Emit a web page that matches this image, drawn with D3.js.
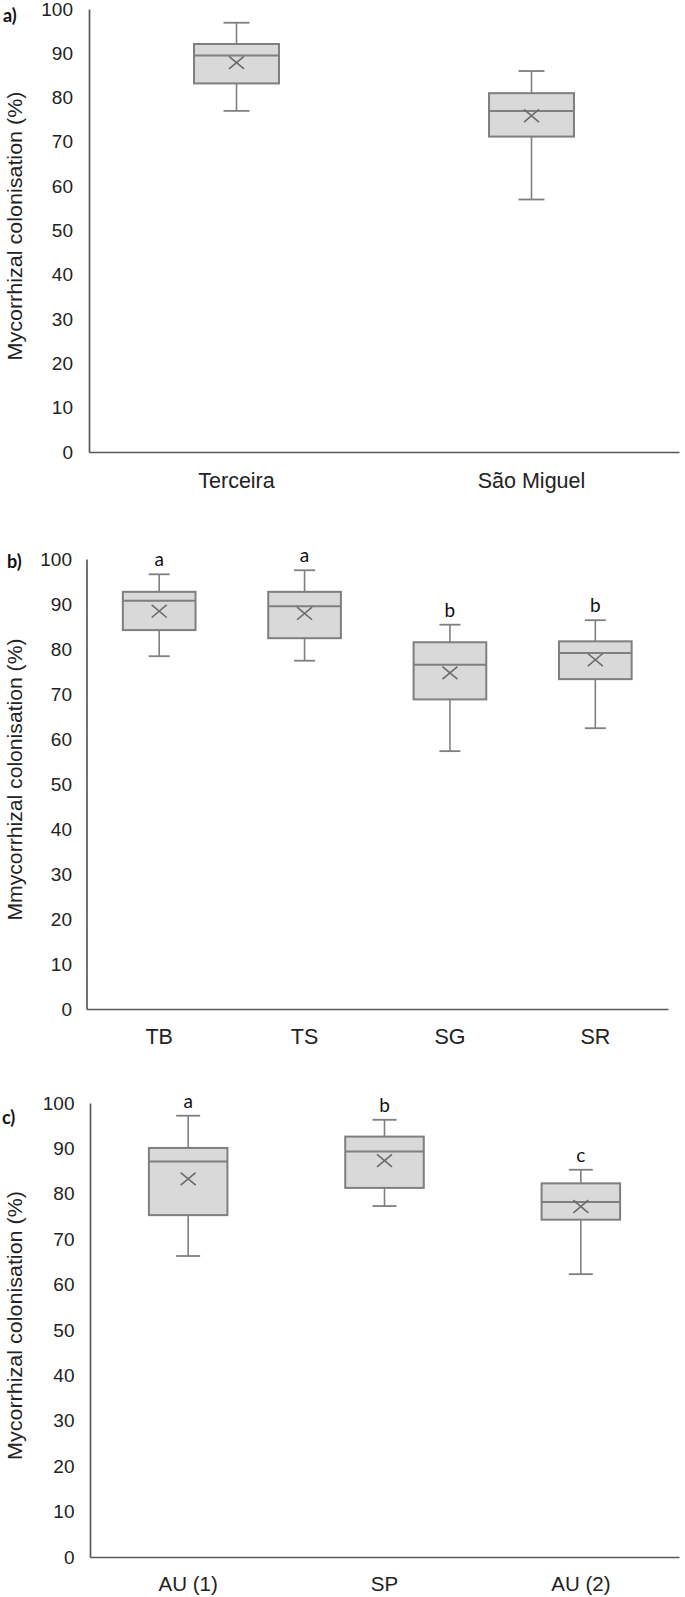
<!DOCTYPE html>
<html>
<head>
<meta charset="utf-8">
<script src="https://cdn.jsdelivr.net/npm/d3@7"></script>
<style>
  html, body { margin: 0; padding: 0; background: #fff; }
  svg { display: block; }
</style>
</head>
<body>
<svg id="chart" width="685" height="1597"></svg>
<script>
// ---------- DATA ----------
const yTicks = [0, 10, 20, 30, 40, 50, 60, 70, 80, 90, 100];

// Panel a
const catsA   = ["Terceira", "São Miguel"];
const minA    = [77, 57];
const q1A     = [83.2, 71.2];
const medA    = [89.5, 77];
const q3A     = [92.1, 81];
const maxA    = [96.9, 86];
const meanA   = [87.9, 75.9];

// Panel b
const catsB    = ["TB", "TS", "SG", "SR"];
const minB     = [78.4, 77.4, 57.3, 62.4];
const q1B      = [84.2, 82.4, 68.8, 73.3];
const medB     = [90.7, 89.5, 76.5, 79.1];
const q3B      = [92.7, 92.7, 81.5, 81.7];
const maxB     = [96.6, 97.5, 85.4, 86.4];
const meanB    = [88.4, 87.9, 74.7, 77.6];
const lettersB = ["a", "a", "b", "b"];

// Panel c
const catsC    = ["AU (1)", "SP", "AU (2)"];
const minC     = [66.3, 77.3, 62.3];
const q1C      = [75.3, 81.3, 74.3];
const medC     = [87.1, 89.3, 78.2];
const q3C      = [90.1, 92.6, 82.3];
const maxC     = [97.2, 96.3, 85.3];
const meanC    = [83.3, 87.3, 77.2];
const lettersC = ["a", "b", "c"];

// ---------- DRAW ----------
const svg = d3.select("#chart");
svg.append("rect").attr("width", 685).attr("height", 1597).attr("fill", "#fff");

const panels = [
  { tag: "a)", tagX: 3, tagY: 15, title: "Mycorrhizal colonisation (%)",
    x0: 89, x1: 679, y0: 452, y100: 9, boxFrac: 0.288, cap: 26, xPad: 20.4, tickPad: 16, catSize: 21.5,
    cats: catsA, mn: minA, q1: q1A, md: medA, q3: q3A, mx: maxA, mean: meanA, letters: null },
  { tag: "b)", tagX: 7, tagY: 561, title: "Mmycorrhizal colonisation (%)",
    x0: 86.5, x1: 668, y0: 1009, y100: 559, boxFrac: 0.5, cap: 21, xPad: 20.1, tickPad: 14.5, catSize: 21.5,
    cats: catsB, mn: minB, q1: q1B, md: medB, q3: q3B, mx: maxB, mean: meanB, letters: lettersB },
  { tag: "c)", tagX: 2, tagY: 1117, title: "Mycorrhizal colonisation (%)",
    x0: 90, x1: 679, y0: 1557, y100: 1103, boxFrac: 0.40, cap: 24, xPad: 19, tickPad: 15.5, catSize: 20.5,
    cats: catsC, mn: minC, q1: q1C, md: medC, q3: q3C, mx: maxC, mean: meanC, letters: lettersC }
];

const boxStroke = "#7f7f7f";
const boxFill = "#d9d9d9";
const axisColor = "#595959";
const textFont = "'Liberation Sans', Arial, sans-serif";
const letterFont = "Lato, 'Open Sans', sans-serif";

panels.forEach(p => {
  const g = svg.append("g");
  const y = d3.scaleLinear().domain([0, 100]).range([p.y0, p.y100]);
  const x = d3.scaleBand().domain(p.cats).range([p.x0, p.x1]);
  const bw = x.bandwidth() * p.boxFrac;
  const cx = c => x(c) + x.bandwidth() / 2;

  // y axis
  const ya = g.append("g").attr("transform", `translate(${p.x0},0)`)
    .call(d3.axisLeft(y).tickValues(yTicks).tickSize(0).tickSizeOuter(0).tickPadding(p.tickPad));
  ya.select(".domain").attr("stroke", axisColor).attr("stroke-width", 1.7);
  ya.selectAll("text").attr("font-family", textFont).attr("font-size", 19).attr("fill", "#222");

  // x axis
  const xa = g.append("g").attr("transform", `translate(0,${p.y0})`)
    .call(d3.axisBottom(x).tickSize(0).tickSizeOuter(0).tickPadding(p.xPad));
  xa.select(".domain").attr("stroke", axisColor).attr("stroke-width", 1.7);
  xa.selectAll("text").attr("font-family", textFont).attr("font-size", p.catSize).attr("fill", "#222");

  // y title
  const tyc = (p.y0 + p.y100) / 2 - 4.5;
  g.append("text")
    .attr("transform", `translate(15,${tyc}) rotate(-90)`)
    .attr("text-anchor", "middle").attr("dominant-baseline", "central")
    .attr("font-family", textFont).attr("font-size", 20).attr("fill", "#222")
    .attr("textLength", p.title.length > 28 ? 282 : 269).attr("lengthAdjust", "spacingAndGlyphs")
    .text(p.title);

  // panel tag
  g.append("text").attr("x", p.tagX).attr("y", p.tagY)
    .attr("dominant-baseline", "central")
    .attr("font-family", letterFont).attr("font-weight", "bold")
    .attr("font-size", 18).attr("fill", "#111").text(p.tag);

  p.cats.forEach((c, i) => {
    const xc = cx(c);
    // whiskers
    g.append("line").attr("x1", xc).attr("x2", xc).attr("y1", y(p.q3[i])).attr("y2", y(p.mx[i]))
      .attr("stroke", boxStroke).attr("stroke-width", 1.6);
    g.append("line").attr("x1", xc).attr("x2", xc).attr("y1", y(p.q1[i])).attr("y2", y(p.mn[i]))
      .attr("stroke", boxStroke).attr("stroke-width", 1.6);
    [p.mx[i], p.mn[i]].forEach(v => {
      g.append("line").attr("x1", xc - p.cap / 2).attr("x2", xc + p.cap / 2)
        .attr("y1", y(v)).attr("y2", y(v))
        .attr("stroke", boxStroke).attr("stroke-width", 1.8);
    });
    // box
    g.append("rect").attr("x", xc - bw / 2).attr("y", y(p.q3[i]))
      .attr("width", bw).attr("height", y(p.q1[i]) - y(p.q3[i]))
      .attr("fill", boxFill).attr("stroke", boxStroke).attr("stroke-width", 2);
    // median
    g.append("line").attr("x1", xc - bw / 2).attr("x2", xc + bw / 2)
      .attr("y1", y(p.md[i])).attr("y2", y(p.md[i]))
      .attr("stroke", boxStroke).attr("stroke-width", 2);
    // mean X
    const my = y(p.mean[i]), hw = 7.5, hh = 6.3;
    g.append("path")
      .attr("d", `M${xc - hw},${my - hh}L${xc + hw},${my + hh}M${xc - hw},${my + hh}L${xc + hw},${my - hh}`)
      .attr("stroke", "#6b6b6b").attr("stroke-width", 1.6).attr("fill", "none");
    // letters
    if (p.letters) {
      g.append("text").attr("x", xc).attr("y", y(p.mx[i]) - 8)
        .attr("text-anchor", "middle")
        .attr("font-family", letterFont).attr("font-size", 19).attr("fill", "#111")
        .text(p.letters[i]);
    }
  });
});
</script>
</body>
</html>
